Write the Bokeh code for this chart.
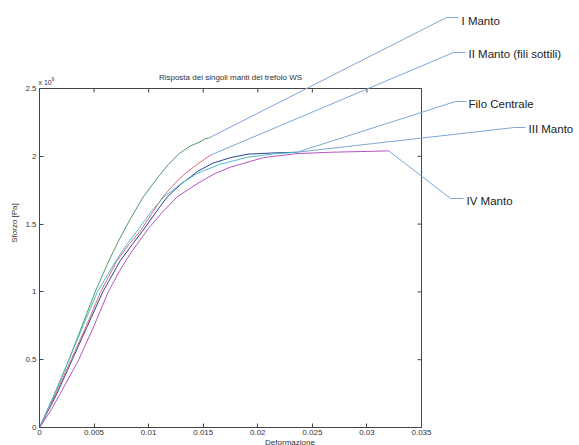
from bokeh.plotting import figure
from bokeh.models import LinearAxis, FixedTicker, Label, Range1d
from bokeh.embed import file_html
from bokeh.resources import INLINE

# ---------------- data (strain [-], stress [x 1e9 Pa]) ----------------
filo_x = [0, 0.0016, 0.0030, 0.0044, 0.0058, 0.0074, 0.0085, 0.0095, 0.0106, 0.0117, 0.0129,
          0.0145, 0.0159, 0.0175, 0.0191, 0.0215, 0.0236]
filo_y = [0, 0.25, 0.50, 0.75, 1.00, 1.23, 1.35, 1.455, 1.58, 1.70, 1.79,
          1.89, 1.95, 1.99, 2.016, 2.025, 2.03]

m1_x = [0, 0.0014, 0.0027, 0.0039, 0.0051, 0.0063, 0.0072, 0.0082, 0.0095, 0.0107, 0.0118,
        0.0128, 0.0138, 0.0148, 0.0152, 0.0155]
m1_y = [0, 0.25, 0.50, 0.75, 1.00, 1.22, 1.37, 1.52, 1.70, 1.83, 1.94,
        2.02, 2.075, 2.11, 2.13, 2.134]

m2_x = [0, 0.0015, 0.0029, 0.0043, 0.0056, 0.0071, 0.0082, 0.0093, 0.0103, 0.0113, 0.0124,
        0.0133, 0.0146, 0.0157]
m2_y = [0, 0.25, 0.50, 0.75, 1.00, 1.23, 1.35, 1.455, 1.58, 1.70, 1.80,
        1.87, 1.95, 2.01]

m3_x = [0, 0.0014, 0.0027, 0.0040, 0.0053, 0.0070, 0.0080, 0.0090, 0.0102, 0.0114, 0.0130,
        0.0145, 0.0165, 0.0191, 0.0215, 0.0236]
m3_y = [0, 0.25, 0.50, 0.75, 1.00, 1.23, 1.35, 1.455, 1.59, 1.70, 1.80,
        1.876, 1.94, 1.994, 2.018, 2.03]

m4_x = [0, 0.0010, 0.0019, 0.0036, 0.0050, 0.0063, 0.0073, 0.0083, 0.0100, 0.0114, 0.0126,
        0.0145, 0.0160, 0.0175, 0.0205, 0.0236, 0.0267, 0.0300, 0.0320]
m4_y = [0, 0.12, 0.25, 0.50, 0.75, 1.00, 1.15, 1.28, 1.47, 1.60, 1.70,
        1.80, 1.87, 1.92, 1.99, 2.02, 2.03, 2.036, 2.04]

series_names = ["Filo Centrale", "I Manto", "II Manto (fili sottili)", "III Manto", "IV Manto"]
series_colors = ["#2d4496", "#4f9a62", "#d9687a", "#4cbcc8", "#b455c0"]

x_ticks = [0, 0.005, 0.01, 0.015, 0.02, 0.025, 0.03, 0.035]
y_ticks = [0, 0.5, 1, 1.5, 2, 2.5]
x_tick_labels = ["0", "0.005", "0.01", "0.015", "0.02", "0.025", "0.03", "0.035"]
y_tick_labels = ["0", "0.5", "1", "1.5", "2", "2.5"]

title_text = "Risposta dei singoli manti del trefolo WS"
x_label = "Deformazione"
y_label = "Sforzo [Pa]"

# ---------------- layout ----------------
W, H = 579, 445
FL, FR, FT, FB = 39, 421, 88, 427   # plot-box edges in pixels
XMAX, YMAX = 0.035, 2.5

def dx(px):
    return (px - FL) / (FR - FL) * XMAX

def dy(py):
    return (FB - py) / (FB - FT) * YMAX

p = figure(width=W, height=H, output_backend="svg", toolbar_location=None,
           x_range=Range1d(dx(0), dx(W)), y_range=Range1d(dy(H), dy(0)),
           x_axis_location=None, y_axis_location=None,
           min_border=0, min_border_left=0, min_border_right=0,
           min_border_top=0, min_border_bottom=0)
p.grid.visible = False
p.outline_line_color = None
p.background_fill_color = "white"
p.border_fill_color = "white"

tick_font = "Liberation Sans"
axis_col = "#444444"
text_col = "#333333"

xax = LinearAxis(fixed_location=0, ticker=FixedTicker(ticks=x_ticks),
                 major_label_overrides={t: l for t, l in zip(x_ticks, x_tick_labels)},
                 axis_label=x_label)
yax = LinearAxis(fixed_location=0, ticker=FixedTicker(ticks=y_ticks),
                 major_label_overrides={t: l for t, l in zip(y_ticks, y_tick_labels)},
                 axis_label=y_label)
for ax in (xax, yax):
    ax.major_tick_in = 4
    ax.major_tick_out = 0
    ax.minor_tick_line_color = None
    ax.axis_line_color = None
    ax.major_tick_line_color = axis_col
    ax.major_label_text_font = tick_font
    ax.major_label_text_font_size = "8px"
    ax.major_label_text_color = text_col
    ax.axis_label_text_font = tick_font
    ax.axis_label_text_font_size = "8px"
    ax.axis_label_text_font_style = "normal"
    ax.axis_label_text_color = text_col
xax.major_label_standoff = 2
xax.axis_label_standoff = 0
yax.major_label_standoff = 3
yax.axis_label_standoff = 3
p.add_layout(xax, "below")
p.add_layout(yax, "left")

# box and ticks on top / right sides
p.line([0, XMAX, XMAX, 0, 0], [0, 0, YMAX, YMAX, 0], line_color=axis_col, line_width=1)
tlx = 4 * XMAX / (FR - FL)
tly = 4 * YMAX / (FB - FT)
p.segment(x0=x_ticks, y0=[YMAX] * len(x_ticks), x1=x_ticks, y1=[YMAX - tly] * len(x_ticks),
          line_color=axis_col, line_width=1)
p.segment(x0=[XMAX] * len(y_ticks), y0=y_ticks, x1=[XMAX - tlx] * len(y_ticks), y1=y_ticks,
          line_color=axis_col, line_width=1)

# ---------------- curves ----------------
xs = [filo_x, m1_x, m2_x, m3_x, m4_x]
ys = [filo_y, m1_y, m2_y, m3_y, m4_y]
for x, y, c in zip(xs, ys, series_colors):
    p.line(x, y, line_color=c, line_width=1)

# ---------------- callouts ----------------
elbow_px = [(455, 101), (446, 17), (453, 52), (514, 127), (450, 198)]
stub_px = [(466, 101), (458, 17), (465, 52), (525, 127), (463, 198)]
text_px = [(468, 103), (461, 20), (468, 53), (528, 128), (466, 200)]
lead_color = "#7ea8d4"
for x, y, e, s, t, name in zip(xs, ys, elbow_px, stub_px, text_px, series_names):
    p.line([x[-1], dx(e[0]), dx(s[0])], [y[-1], dy(e[1]), dy(s[1])],
           line_color=lead_color, line_width=1)
    p.add_layout(Label(x=dx(t[0]), y=dy(t[1]), text=name, text_font="Liberation Sans",
                       text_font_size="11.5px", text_color="#222222", text_baseline="middle"))

# title and exponent
p.add_layout(Label(x=dx((FL + FR) / 2), y=dy(77), text=title_text, text_font=tick_font,
                   text_font_size="8px", text_color=text_col, text_align="center",
                   text_baseline="middle"))
p.add_layout(Label(x=dx(38), y=dy(82), text="x 10", text_font=tick_font, text_font_size="7px",
                   text_color=text_col, text_baseline="middle"))
p.add_layout(Label(x=dx(51), y=dy(78), text="9", text_font=tick_font, text_font_size="5px",
                   text_color=text_col, text_baseline="middle"))

open("out.html", "w").write(file_html(p, INLINE))
